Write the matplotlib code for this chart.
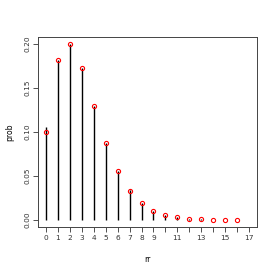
import matplotlib
matplotlib.use("Agg")
import matplotlib.pyplot as plt

rr = list(range(18))
obs = [0.106, 0.1815, 0.2, 0.1727, 0.1295, 0.088, 0.0557, 0.0335, 0.0195, 0.0106,
       0.0057, 0.003, 0.0015, 0.0008, 0.0004, 0.0002, 0.0, 0.0001]
theo_x = list(range(17))
theo = [0.1005, 0.1815, 0.1995, 0.1725, 0.1292, 0.0875, 0.0553, 0.0332, 0.0192, 0.0106,
        0.0056, 0.0029, 0.0015, 0.0007, 0.0003, 0.00015, 0.00007]
xtick_labels = ["0", "1", "2", "3", "4", "5", "6", "7", "8", "9", "", "11", "", "13", "", "15", "", "17"]

fig = plt.figure(figsize=(2.75, 2.75), dpi=100)
ax = fig.add_axes([38/275, 1-227/275, (257-38)/275, (227-37)/275])
ax.vlines(rr, 0, obs, colors="black", lw=1.0)
ax.plot(theo_x, theo, "o", mfc="none", mec="red", ms=3.0, mew=0.8)

ax.set_xlim(-0.68, 17.68)
ax.set_ylim(-0.008, 0.208)
ax.set_xticks(rr)
ax.set_xticklabels(xtick_labels)
ax.set_yticks([0, 0.05, 0.1, 0.15, 0.2])
ax.set_yticklabels(["0.00", "0.05", "0.10", "0.15", "0.20"], rotation=90, va="center")
ax.tick_params(labelsize=5.3, length=3.5, width=0.6, colors="#333333", pad=2)
for s in ax.spines.values():
    s.set_linewidth(0.7)
    s.set_color("#444444")
ax.set_xlabel("rr", fontsize=5.5, labelpad=10)
ax.set_ylabel("prob", fontsize=5.5, labelpad=7)
fig.savefig("out.png", dpi=100)
